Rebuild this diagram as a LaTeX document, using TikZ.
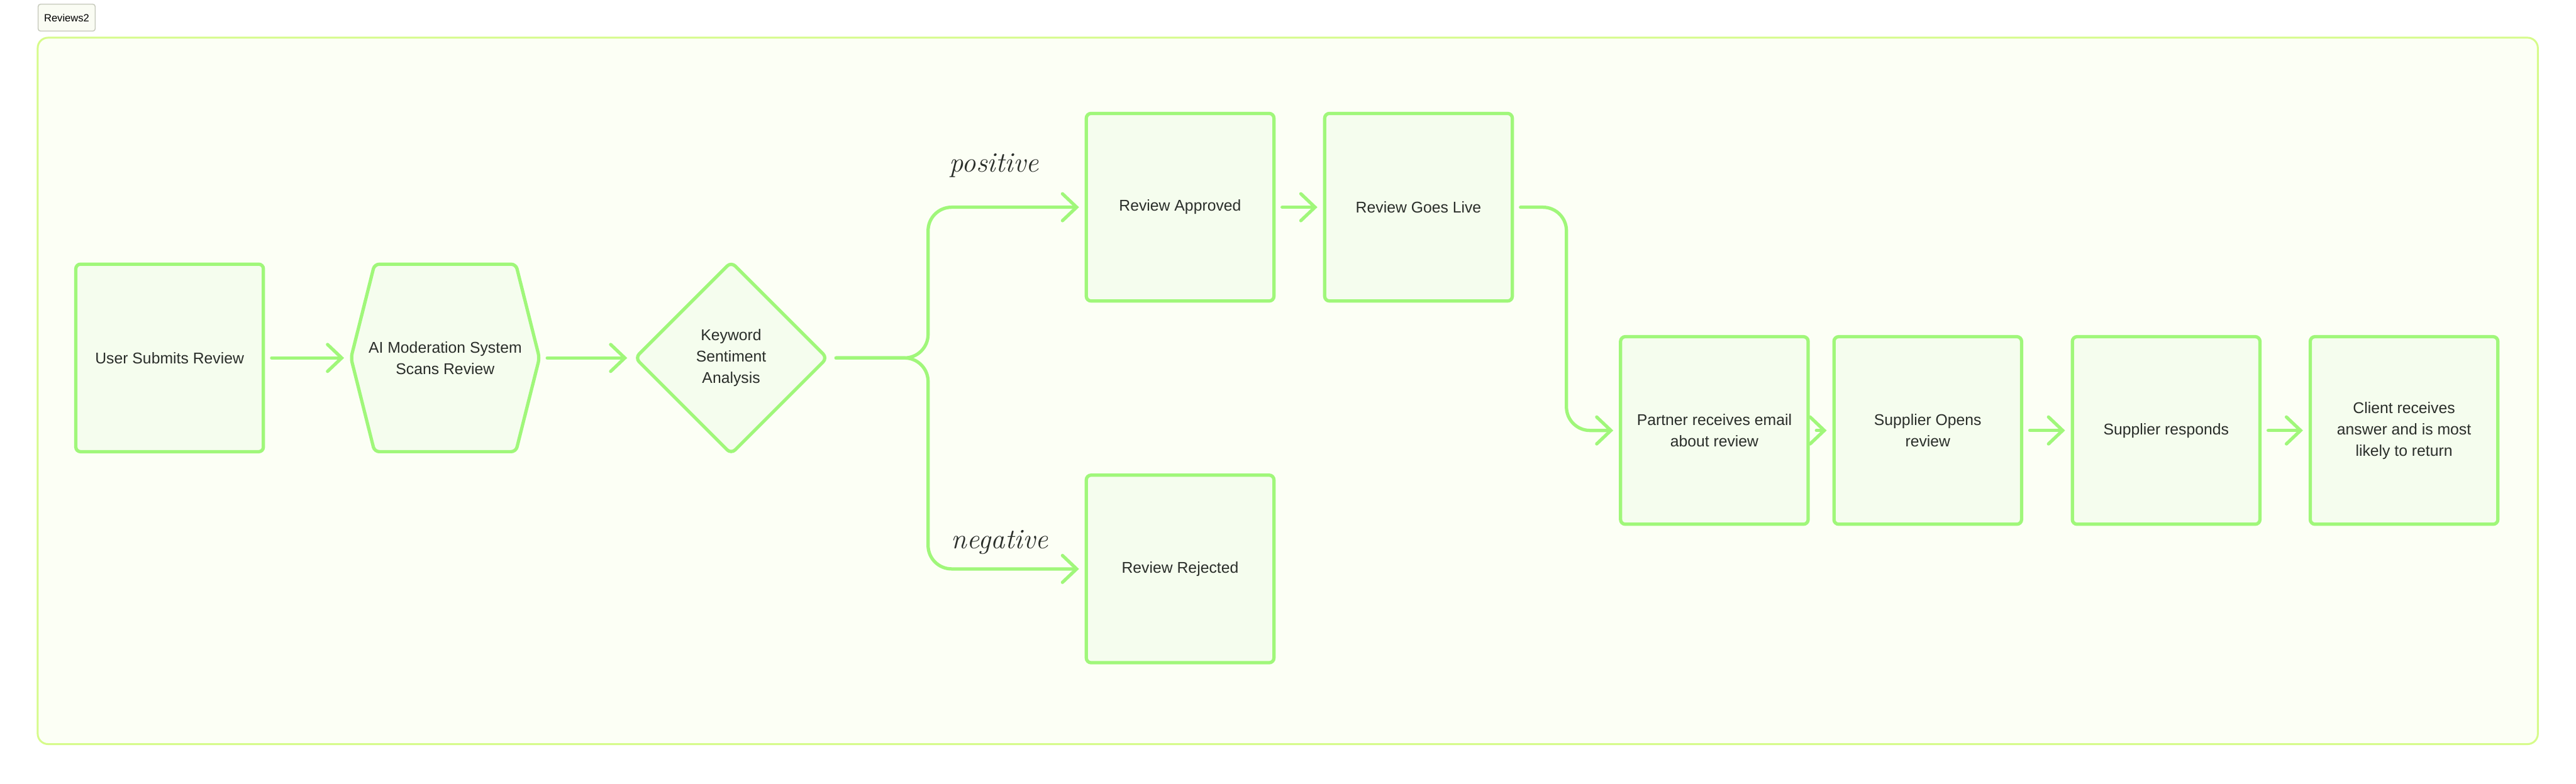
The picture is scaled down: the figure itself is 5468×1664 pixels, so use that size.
\documentclass[tikz,border=0pt]{standalone}
\usepackage{fontspec}
\setsansfont{Liberation Sans}
\usepackage{xcolor}
\usepackage{tikz}
\usetikzlibrary{arrows.meta,positioning,calc,shapes.geometric}

\definecolor{boxline}{HTML}{A0F77A}
\definecolor{boxfill}{HTML}{F5FDEE}
\definecolor{frameline}{HTML}{D6FB8A}
\definecolor{framefill}{HTML}{FCFFF5}
\definecolor{tagline}{HTML}{C8CBBE}
\definecolor{tagfill}{HTML}{FAFCF3}
\definecolor{ink}{HTML}{2A2E2A}

\begin{document}
\begin{tikzpicture}[x=0.01cm, y=-0.01cm,
  box/.style={draw=boxline, fill=boxfill, line width=0.07cm, rounded corners=0.1cm,
              minimum width=3.98cm, minimum height=3.98cm, inner sep=0pt,
              align=center, text=ink, font=\sffamily\fontsize{9.4}{12.9}\selectfont},
  plain/.style={box, draw=none, fill=none},
  decision/.style={box, shape=diamond, rounded corners=0.12cm,
                   minimum width=4.1cm, minimum height=4.1cm},
  hexline/.style={draw=boxline, fill=boxfill, line width=0.07cm, rounded corners=0.1cm},
  arrow/.style={draw=boxline, line width=0.07cm, line cap=round, rounded corners=0.5cm,
                -{Straight Barb[length=0.3cm, width=0.57cm, line cap=round]},
                shorten <=0.14cm, shorten >=0.12cm},
  note/.style={font=\rmfamily\itshape\fontsize{17}{20}\selectfont, text=ink, inner sep=0pt},
  frame/.style={draw=frameline, fill=framefill, line width=0.04cm, rounded corners=0.22cm},
  tag/.style={draw=tagline, fill=tagfill, line width=0.02cm, rounded corners=0.05cm,
              minimum width=1.21cm, minimum height=0.57cm, inner sep=0pt,
              text=black, font=\sffamily\fontsize{6.3}{7}\selectfont}
]
\useasboundingbox (0,0) rectangle (5468,1664);
\draw[frame] (80,80) rectangle (5387,1580);
\node[tag] (title) at (141.5,37.5) {Reviews2};

\node[box] (user) at (360,760) {User Submits Review};
\draw[hexline] (745,760) -- (795,561) -- (1095,561) -- (1145,760) -- (1095,959) -- (795,959) -- cycle;
\node[plain] (ai) at (945,760) {AI Moderation System\\Scans Review};
\node[decision] (kw) at (1552,760) {Keyword\\Sentiment\\Analysis};
\node[box] (ok) at (2505,440) {Review Approved};
\node[box] (live) at (3011,440) {Review Goes Live};
\node[box] (rej) at (2505,1208) {Review Rejected};
\node[box] (partner) at (3639,914) {Partner receives email\\about review};
\node[box] (opens) at (4092,914) {Supplier Opens\\review};
\node[box] (responds) at (4598,914) {Supplier responds};
\node[box] (client) at (5103,914) {Client receives\\answer and is most\\likely to return};

\node[note] (pos) at (2110,352) {positive};
\node[note] (neg) at (2122,1152) {negative};

\coordinate (split) at (1970,760);
\coordinate (drop) at ($(live.east)!0.5!(partner.west)$);

\draw[arrow] (user) -- (ai);
\draw[arrow] (ai) -- (kw);
\draw[arrow] (kw.east) -- (split) |- (ok.west);
\draw[arrow] (kw.east) -- (split) |- (rej.west);
\draw[arrow] (ok) -- (live);
\draw[arrow] (live.east) -| (drop) |- (partner.west);
\draw[arrow] (partner) -- (opens);
\draw[arrow] (opens) -- (responds);
\draw[arrow] (responds) -- (client);
\end{tikzpicture}
\end{document}
